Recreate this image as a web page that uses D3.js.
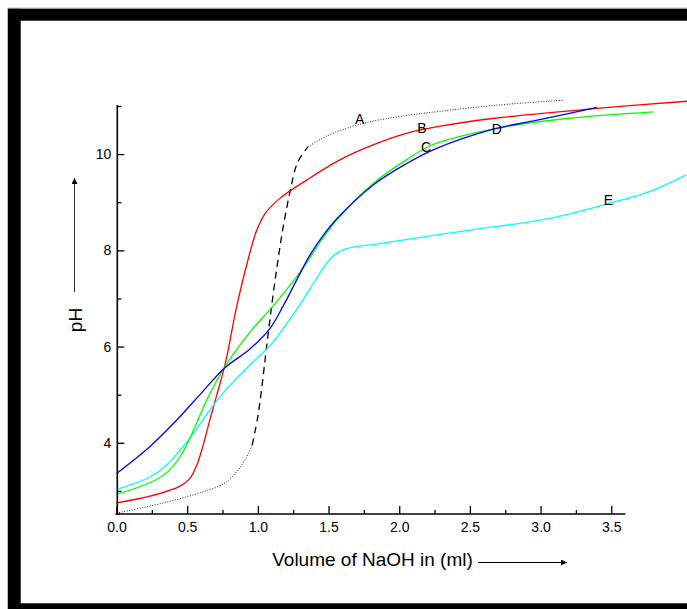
<!DOCTYPE html>
<html><head><meta charset="utf-8">
<script src="https://cdn.jsdelivr.net/npm/d3@7"></script>
<style>body{margin:0;background:#fff}svg{display:block}text{font-family:"Liberation Sans",Arial,sans-serif}</style>
</head><body>
<svg id="c" width="687" height="609"></svg>
<script>
// Volume of NaOH (ml) and pH
const curveA_dotted1 = [[0,2.54],[0.2,2.66],[0.4,2.8],[0.6,2.97],[0.76,3.15],[0.85,3.4],[0.91,3.65],[0.96,3.95]];
const curveA_dashed = [[0.96,3.95],[1.0,4.55],[1.03,5.2],[1.06,5.95],[1.1,6.9],[1.14,7.75],[1.18,8.5],[1.23,9.25],[1.28,9.82],[1.354,10.15]];
const curveA_dotted2 = [[1.354,10.15],[1.49,10.38],[1.72,10.62],[2.0,10.78],[2.29,10.89],[2.7,11.02],[3.16,11.12]];
const curveB = [[0,2.75],[0.236,2.89],[0.45,3.1],[0.52,3.26],[0.57,3.55],[0.61,3.92],[0.66,4.47],[0.71,5.0],[0.77,5.65],[0.85,6.83],[0.93,7.8],[0.99,8.4],[1.05,8.76],[1.156,9.08],[1.345,9.46],[1.58,9.88],[1.815,10.19],[2.05,10.43],[2.29,10.58],[2.66,10.74],[3.4,10.95],[4.04,11.1]];
const curveC = [[0,2.93],[0.236,3.17],[0.355,3.38],[0.45,3.71],[0.52,4.1],[0.59,4.57],[0.65,4.96],[0.767,5.58],[0.944,6.3],[1.11,6.85],[1.3,7.55],[1.45,8.21],[1.557,8.63],[1.816,9.39],[2.05,9.88],[2.24,10.2],[2.665,10.52],[3.18,10.74],[3.8,10.88]];
const curveD = [[0,3.36],[0.236,3.92],[0.355,4.26],[0.47,4.61],[0.59,5.0],[0.767,5.56],[0.944,5.95],[1.086,6.38],[1.18,6.85],[1.274,7.38],[1.368,7.9],[1.46,8.3],[1.557,8.65],[1.816,9.36],[2.05,9.8],[2.24,10.09],[2.665,10.52],[2.95,10.69],[3.4,10.97]];
const curveE = [[0,3.03],[0.236,3.29],[0.355,3.54],[0.45,3.85],[0.543,4.19],[0.66,4.68],[0.78,5.12],[0.944,5.62],[1.086,6.02],[1.2,6.46],[1.32,6.97],[1.416,7.42],[1.52,7.85],[1.62,8.03],[1.86,8.14],[2.5,8.42],[3.04,8.65],[3.49,8.98],[3.77,9.22],[4.03,9.57]];
const curveLabels = [["A",1.72,10.72],["B",2.16,10.54],["C",2.19,10.14],["D",2.69,10.52],["E",3.48,9.04]];
const xTicks = [0,0.5,1,1.5,2,2.5,3,3.5];
const xMinor = [0.25,0.75,1.25,1.75,2.25,2.75,3.25];
const yTicks = [4,6,8,10];
const yMinor = [3,5,7,9,11];

const svg = d3.select("#c");
const x = d3.scaleLinear().domain([0,3.6]).range([116.5,625.4]);
const y = d3.scaleLinear().domain([2.52,11.0]).range([514,106]);

// frame
svg.append("rect").attr("x",8).attr("y",8.5).attr("width",679).attr("height",12.2).attr("fill","#000");
svg.append("rect").attr("x",8).attr("y",8.5).attr("width",12.7).attr("height",601).attr("fill","#000");
svg.append("rect").attr("x",8).attr("y",603.3).attr("width",679).attr("height",6).attr("fill","#000");
svg.append("path").attr("d","M7.5,609V8H687").attr("fill","none").attr("stroke","#bbb").attr("stroke-width",1);

const line = d3.line().x(d=>x(d[0])).y(d=>y(d[1])).curve(d3.curveCatmullRom.alpha(0.5));
function draw(data,color,w,dash){
  const p = svg.append("path").datum(data).attr("d",line).attr("fill","none").attr("stroke",color).attr("stroke-width",w);
  if(dash) p.attr("stroke-dasharray",dash);
}
draw(curveA_dotted1,"#222",1,"1,1.6");
draw(curveA_dashed,"#000",1.3,"7,5");
draw(curveA_dotted2,"#222",1,"1,1.6");
draw(curveB,"#ff0000",1.3);
draw(curveE,"#00ffff",1.3);
draw(curveC,"#00ff00",1.3);
draw(curveD,"#0000ff",1.3);

svg.selectAll("text.cl").data(curveLabels).enter().append("text").attr("class","cl")
  .attr("x",d=>x(d[1])).attr("y",d=>y(d[2])).attr("text-anchor","middle").attr("dy","0.35em")
  .attr("font-size",14).attr("fill","#000").text(d=>d[0]);

// axes
const xg = svg.append("g").attr("transform","translate(0,514)");
xg.call(d3.axisBottom(x).tickValues(xTicks).tickSize(-8).tickPadding(8).tickFormat(d3.format(".1f")));
xg.append("g").call(d3.axisBottom(x).tickValues(xMinor).tickSize(-4).tickFormat(""));
xg.selectAll(".domain").remove();
xg.append("line").attr("x1",x(0)-1).attr("x2",x(3.6)).attr("stroke","#000").attr("stroke-width",1.6);
xg.selectAll(".tick line").attr("stroke","#000").attr("stroke-width",1.3);
xg.selectAll(".tick text").attr("font-size",14).attr("fill","#000").attr("font-family","Liberation Sans, Arial, sans-serif");

const yg = svg.append("g").attr("transform","translate(117.3,0)");
yg.call(d3.axisLeft(y).tickValues(yTicks).tickSize(-7).tickPadding(6));
yg.append("g").call(d3.axisLeft(y).tickValues(yMinor).tickSize(-4).tickFormat(""));
yg.selectAll(".domain").remove();
yg.append("line").attr("y1",y(2.52)+1).attr("y2",y(11.02)).attr("stroke","#000").attr("stroke-width",1.6);
yg.selectAll(".tick line").attr("stroke","#000").attr("stroke-width",1.3);
yg.selectAll(".tick text").attr("font-size",14).attr("fill","#000").attr("font-family","Liberation Sans, Arial, sans-serif");

// axis titles with arrows
const defs = svg.append("defs");
defs.append("marker").attr("id","ah").attr("viewBox","0 0 10 10").attr("refX",10).attr("refY",5)
  .attr("markerWidth",9).attr("markerHeight",6).attr("markerUnits","userSpaceOnUse").attr("orient","auto")
  .append("path").attr("d","M0,0L10,5L0,10z").attr("fill","#000");
svg.append("text").attr("x",372.5).attr("y",565.5).attr("text-anchor","middle").attr("font-size",19).attr("fill","#000").text("Volume of NaOH in (ml)");
svg.append("line").attr("x1",478).attr("x2",567).attr("y1",562.5).attr("y2",562.5).attr("stroke","#000").attr("stroke-width",1).attr("marker-end","url(#ah)");
svg.append("text").attr("transform","translate(82,320) rotate(-90)").attr("text-anchor","middle").attr("font-size",19).attr("fill","#000").text("pH");
svg.append("line").attr("x1",74.5).attr("x2",74.5).attr("y1",292).attr("y2",178).attr("stroke","#333").attr("stroke-width",1).attr("marker-end","url(#ah)");
</script>
</body></html>
